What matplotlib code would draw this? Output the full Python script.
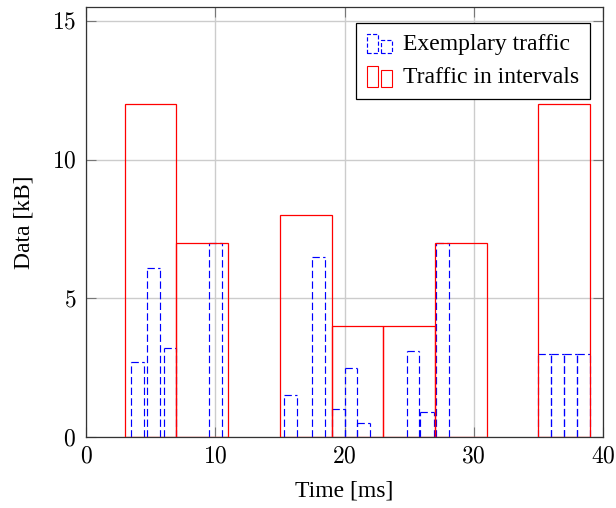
import matplotlib
matplotlib.use("Agg")
import matplotlib.pyplot as plt
from matplotlib.patches import Rectangle
from matplotlib.lines import Line2D
from matplotlib.legend_handler import HandlerBase
from matplotlib.ticker import FuncFormatter

# ---- data ----
blue_left = [3.5, 4.75, 6.0, 9.5, 15.3, 17.5, 19.0, 20.0, 21.0, 24.8, 25.85, 27.1, 35.0, 36.0, 37.0, 38.0]
blue_height = [2.7, 6.1, 3.2, 7.0, 1.5, 6.5, 1.0, 2.5, 0.5, 3.1, 0.9, 7.0, 3.0, 3.0, 3.0, 3.0]
blue_width = [1.0, 1.0, 1.0, 1.0, 1.0, 1.0, 1.0, 1.0, 1.0, 1.0, 1.05, 1.0, 1.0, 1.0, 1.0, 1.0]

red_left = [3, 7, 15, 19, 23, 27, 35]
red_height = [12, 7, 8, 4, 4, 7, 12]
red_width = [4, 4, 4, 4, 4, 4, 4]

x_ticks = [0, 10, 20, 30, 40]
y_ticks = [0, 5, 10, 15]

plt.rcParams['font.family'] = ['Liberation Serif', 'DejaVu Serif']
plt.rcParams['mathtext.fontset'] = 'cm'

fig = plt.figure(figsize=(6.16, 5.08), dpi=100)
ax = fig.add_axes([86/616, 71/508, (603-86)/616, (437-7)/508])

BLUE = '#0000ff'
RED = '#ff0000'
dash = (0, (6.2, 2.8))
blue_right = [l + w for l, w in zip(blue_left, blue_width)]
# blue bars: edges drawn from the data so shared edges keep the same dash phase
ax.vlines(blue_left, 0, blue_height, colors=BLUE, linewidth=0.85, linestyles=[dash], zorder=3)
ax.vlines(blue_right, 0, blue_height, colors=BLUE, linewidth=0.85, linestyles=[dash], zorder=3)
ax.hlines(blue_height, blue_left, blue_right, colors=BLUE, linewidth=0.85, linestyles=[dash], zorder=3)

ax.bar(red_left, red_height, width=red_width, align='edge', fill=False,
       edgecolor=RED, linewidth=0.9, zorder=4)

ax.set_xlim(0, 40)
ax.set_ylim(0, 15.5)
ax.set_xticks(x_ticks)
ax.set_yticks(y_ticks)
fmt = FuncFormatter(lambda v, p: r'$%d$' % v)
ax.xaxis.set_major_formatter(fmt)
ax.yaxis.set_major_formatter(fmt)
ax.grid(True, color='#cccccc', linewidth=1.0, zorder=0)
ax.set_axisbelow(True)
ax.tick_params(direction='in', length=7, width=0.8, color='#777777',
               top=True, right=True, labelsize=17)
ax.tick_params(axis='x', pad=7)
ax.tick_params(axis='y', pad=7)
for s in ax.spines.values():
    s.set_color('#333333')
    s.set_linewidth(0.9)

ax.set_xlabel('Time [ms]', fontsize=17, labelpad=9)
ax.set_ylabel('Data [kB]', fontsize=17, labelpad=12)


class TwoBarHandler(HandlerBase):
    def __init__(self, color, ls, lw, hs):
        super().__init__()
        self.color = color
        self.ls = ls
        self.lw = lw
        self.hs = hs

    def create_artists(self, legend, orig_handle, xdescent, ydescent,
                       width, height, fontsize, trans):
        x0 = -xdescent
        y0 = -ydescent - 0.2 * height
        bw = width * 0.42
        gap = width * 0.12
        h1 = height * self.hs[0]
        h2 = height * self.hs[1]
        r1 = Rectangle((x0, y0), bw, h1, fill=False, edgecolor=self.color,
                       linestyle=self.ls, linewidth=self.lw, transform=trans)
        r2 = Rectangle((x0 + bw + gap, y0), bw, h2, fill=False,
                       edgecolor=self.color, linestyle=self.ls,
                       linewidth=self.lw, transform=trans)
        return [r1, r2]


h_blue = Line2D([], [], color=BLUE)
h_red = Line2D([], [], color=RED)
leg = ax.legend([h_blue, h_red], ['Exemplary traffic', 'Traffic in intervals'],
                loc='upper right',
                bbox_to_anchor=((590-86)/517, (437-23)/430), borderaxespad=0,
                fontsize=17, frameon=True, fancybox=False, edgecolor='black',
                framealpha=1, handlelength=1.1, handletextpad=0.45,
                borderpad=0.45, labelspacing=0.5,
                handler_map={h_blue: TwoBarHandler(BLUE, (0, (3.5, 1.8)), 0.85, (1.2, 0.8)),
                             h_red: TwoBarHandler(RED, '-', 0.8, (1.27, 1.03))})
leg.get_frame().set_linewidth(0.9)
leg.set_zorder(10)

fig.savefig('out.png', dpi=100)
